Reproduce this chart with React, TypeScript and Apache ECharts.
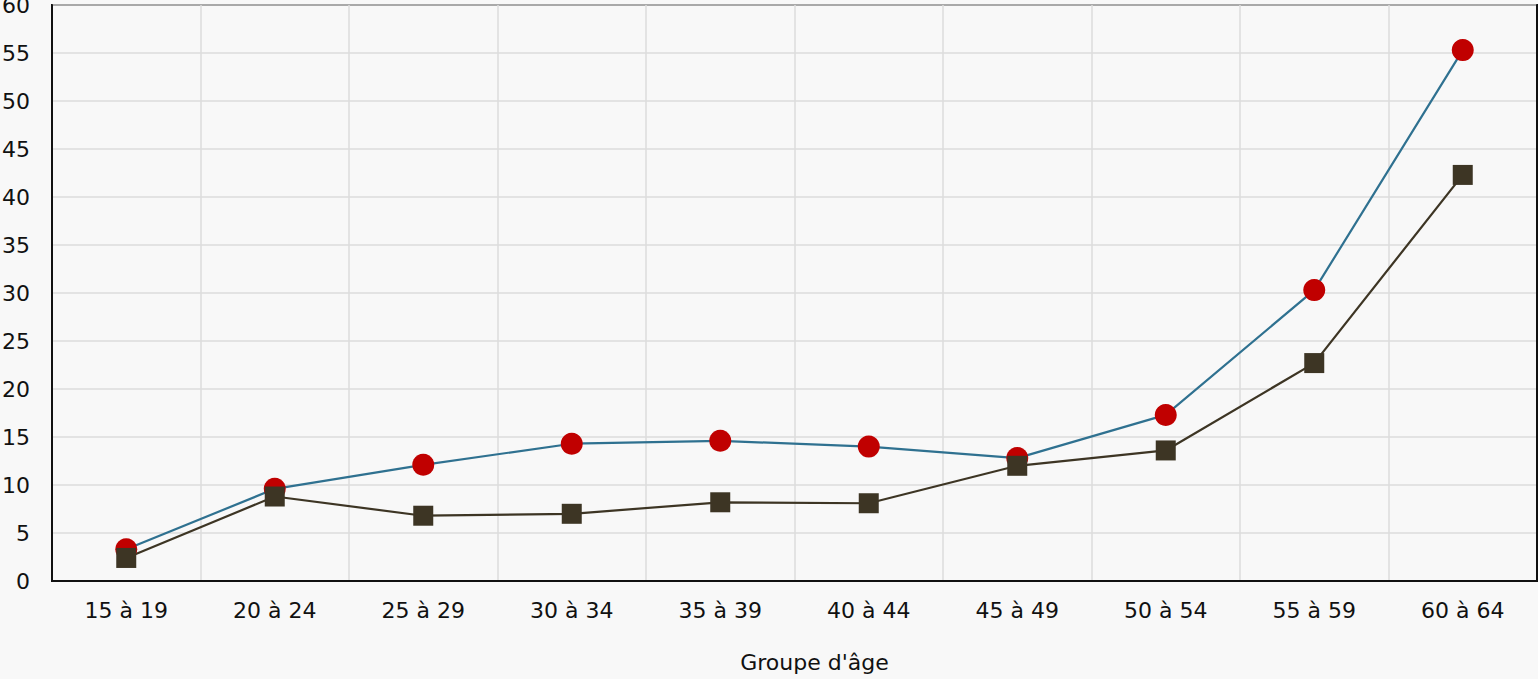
import React, { useEffect, useRef } from "react";
import * as echarts from "echarts";

const categories = ["15 à 19", "20 à 24", "25 à 29", "30 à 34", "35 à 39", "40 à 44", "45 à 49", "50 à 54", "55 à 59", "60 à 64"];
const seriesA = [3.3, 9.6, 12.1, 14.3, 14.6, 14.0, 12.8, 17.3, 30.3, 55.3];
const seriesB = [2.4, 8.8, 6.8, 7.0, 8.2, 8.1, 12.0, 13.6, 22.7, 42.3];
const xAxisTitle = "Groupe d'âge";

export default function App() {
  const ref = useRef<HTMLDivElement>(null);
  useEffect(() => {
    if (!ref.current) return;
    const chart = echarts.init(ref.current, undefined, { renderer: "svg" });
    const font = "'DejaVu Sans', Verdana, sans-serif";
    const frameLine = { show: true, lineStyle: { color: "#111111", width: 2 } };
    chart.setOption({
      animation: false,
      backgroundColor: "#f8f8f8",
      textStyle: { fontFamily: font },
      grid: {
        left: 52,
        right: 1,
        top: 5,
        bottom: 98,
        show: true,
        borderColor: "#111111",
        borderWidth: 2,
        containLabel: false,
        outerBoundsMode: "none",
      },
      xAxis: [
        {
          type: "category",
          data: categories,
          boundaryGap: true,
          name: xAxisTitle,
          nameLocation: "middle",
          nameGap: 70,
          nameTextStyle: { fontFamily: font, fontSize: 22, color: "#111111", padding: [0, 0, 0, 40] },
          axisLine: frameLine,
          axisTick: { show: false },
          axisLabel: { fontFamily: font, fontSize: 22, color: "#111111", margin: 18, interval: 0 },
          splitLine: { show: true, lineStyle: { color: "#dcdcdc", width: 1.5 } },
          z: 1,
        },
        {
          type: "category",
          data: categories,
          position: "top",
          axisLine: frameLine,
          axisTick: { show: false },
          axisLabel: { show: false },
          splitLine: { show: false },
          z: 3,
        },
      ],
      yAxis: [
        {
          type: "value",
          min: 0,
          max: 60,
          interval: 5,
          axisLine: frameLine,
          axisTick: { show: false },
          axisLabel: { fontFamily: font, fontSize: 22, color: "#111111", margin: 22 },
          splitLine: { show: true, lineStyle: { color: "#dcdcdc", width: 1.5 } },
          z: 1,
        },
        {
          type: "value",
          min: 0,
          max: 60,
          interval: 5,
          position: "right",
          axisLine: frameLine,
          axisTick: { show: false },
          axisLabel: { show: false },
          splitLine: { show: false },
          z: 3,
        },
      ],
      series: [
        {
          name: "Série A",
          type: "line",
          data: seriesA,
          symbol: "circle",
          symbolSize: 22,
          lineStyle: { color: "#2f7190", width: 2.2 },
          itemStyle: { color: "#c00000" },
        },
        {
          name: "Série B",
          type: "line",
          data: seriesB,
          symbol: "rect",
          symbolSize: 20,
          lineStyle: { color: "#3d3524", width: 2.2 },
          itemStyle: { color: "#3d3524" },
        },
      ],
    });
    return () => chart.dispose();
  }, []);
  return (
    <div
      ref={ref}
      style={{ position: "fixed", left: 0, top: 0, width: 1538, height: 679 }}
    />
  );
}
